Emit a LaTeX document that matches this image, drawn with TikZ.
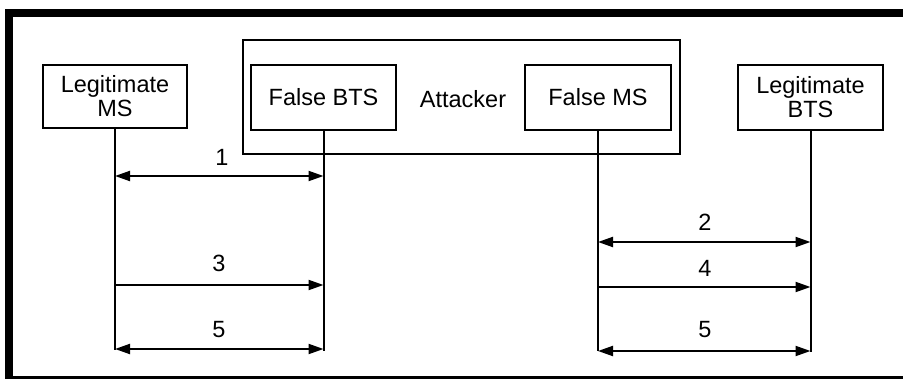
\documentclass[tikz,border=0pt]{standalone}
\usepackage{fontspec}
\setmainfont{Liberation Sans}
\usetikzlibrary{arrows.meta}
\begin{document}
\begin{tikzpicture}[x=1pt,y=-1pt,
  ent/.style={draw,line width=2.6pt,align=center,inner sep=0pt,font=\fontsize{23.5}{24}\selectfont},
  life/.style={line width=2pt},
  msg/.style={line width=2pt,-{Triangle[length=15pt,width=10pt]}},
  bimsg/.style={line width=2pt,{Triangle[length=15pt,width=10pt]}-{Triangle[length=15pt,width=10pt]}},
  num/.style={font=\fontsize{23.5}{24}\selectfont,inner sep=0pt}]
\useasboundingbox (0,0) rectangle (903,379);
\fill[white] (0,0) rectangle (903,379);
\begin{scope}
\clip (0,0) rectangle (903,379);
\draw[line width=8pt] (9,383) -- (9,13) -- (910,13);
\draw[line width=3pt] (5,378) -- (910,378);
\end{scope}
% attacker box
\node[ent,minimum width=437pt,minimum height=114pt] (att) at (461.5,97) {};
\node[num] (attl) at (463,99) {Attacker};
% entities
\node[ent,minimum width=144pt,minimum height=63pt] (lms) at (115,96.5) {Legitimate\\MS};
\node[ent,minimum width=145pt,minimum height=65pt] (fbts) at (323.5,97.5) {False BTS};
\node[ent,minimum width=146pt,minimum height=65pt] (fms) at (598,97.5) {False MS};
\node[ent,minimum width=145pt,minimum height=65pt] (lbts) at (810.5,97.5) {Legitimate\\BTS};
% lifeline ends
\coordinate (lmsE) at (lms.south |- 0,350);
\coordinate (fbtsE) at (fbts.south |- 0,351);
\coordinate (fmsE) at (fms.south |- 0,351);
\coordinate (lbtsE) at (lbts.south |- 0,352);
\draw[life] (lms.south) -- (lmsE);
\draw[life] (fbts.south) -- (fbtsE);
\draw[life] (fms.south) -- (fmsE);
\draw[life] (lbts.south) -- (lbtsE);
% message points
\coordinate (m1a) at (lms.south |- 0,176);
\coordinate (m1b) at (fbts.south |- 0,176);
\coordinate (m3a) at (lms.south |- 0,285);
\coordinate (m3b) at (fbts.south |- 0,285);
\coordinate (m5a) at (lms.south |- 0,349);
\coordinate (m5b) at (fbts.south |- 0,349);
\coordinate (m2a) at (fms.south |- 0,242);
\coordinate (m2b) at (lbts.south |- 0,242);
\coordinate (m4a) at (fms.south |- 0,287);
\coordinate (m4b) at (lbts.south |- 0,287);
\coordinate (m6a) at (fms.south |- 0,351);
\coordinate (m6b) at (lbts.south |- 0,351);
\draw[bimsg] (m1a) -- (m1b);
\draw[msg] (m3a) -- (m3b);
\draw[bimsg] (m5a) -- (m5b);
\draw[bimsg] (m2a) -- (m2b);
\draw[msg] (m4a) -- (m4b);
\draw[bimsg] (m6a) -- (m6b);
% labels
\node[num] (n1) at (222,157) {1};
\node[num] (n3) at (219,263) {3};
\node[num] (n5a) at (219,330) {5};
\node[num] (n2) at (705,222) {2};
\node[num] (n4) at (705,268) {4};
\node[num] (n5b) at (705,330) {5};
\end{tikzpicture}
\end{document}
